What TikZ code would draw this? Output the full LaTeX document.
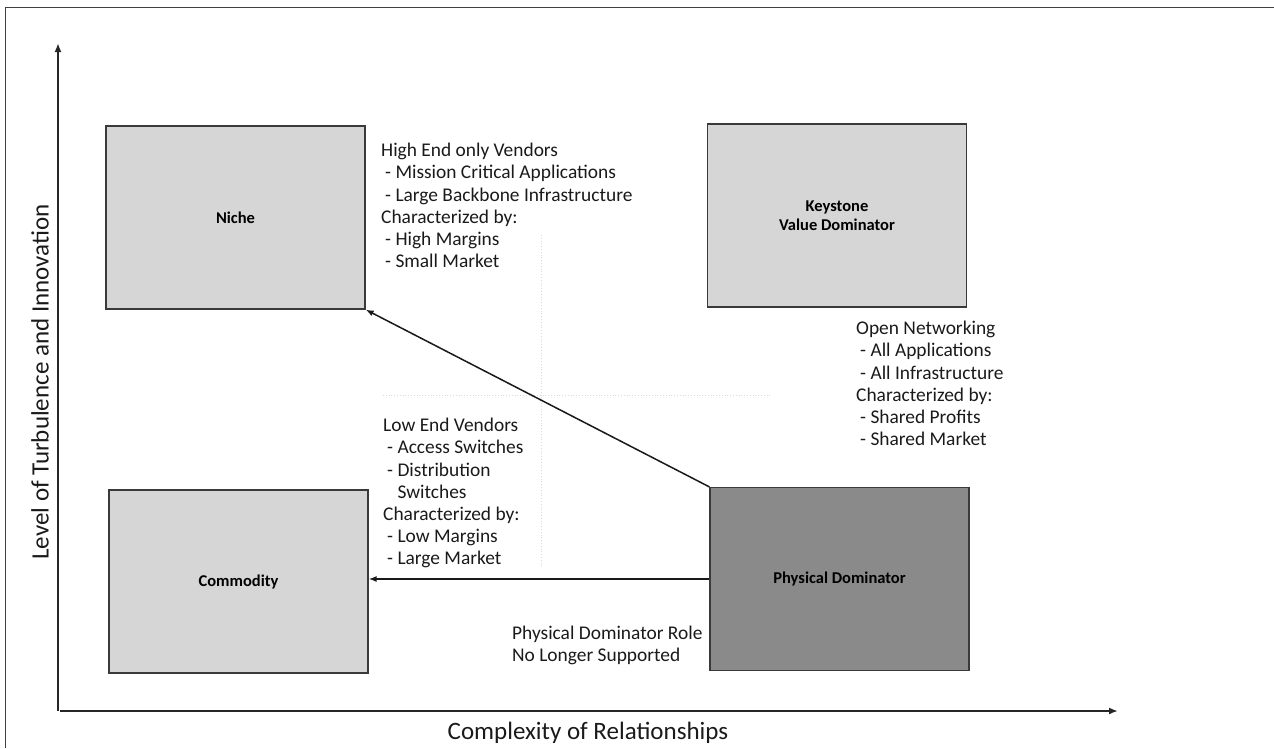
\documentclass[tikz,border=0pt]{standalone}
\usepackage{fontspec}
\setmainfont{Carlito}
\usetikzlibrary{arrows.meta}
\definecolor{boxlight}{HTML}{D6D6D6}
\definecolor{boxdark}{HTML}{8A8A8A}
\definecolor{edgegray}{HTML}{3A3A3A}
\definecolor{txt}{HTML}{1A1A1A}
\newcommand{\ind}{\hspace*{4pt}}
\tikzset{
  quad/.style={draw=edgegray, line width=1.2pt, fill=boxlight, minimum width=259pt, minimum height=183pt, inner sep=0pt, font=\fontsize{16.5}{19}\selectfont\bfseries, align=center},
  sidetext/.style={anchor=north west, inner sep=0pt, align=left, text=txt, font=\fontsize{19.4}{22.2}\selectfont},
  axislabel/.style={inner sep=0pt, text=txt, font=\fontsize{25}{28}\selectfont},
  axisline/.style={line width=2pt, draw=black!85, -{Latex[length=9pt,width=7pt]}},
  flow/.style={line width=1.5pt, draw=black!90, -{Latex[length=8pt,width=6pt]}},
  faint/.style={draw=gray!30, line width=0.8pt, dotted}
}
\begin{document}
\begin{tikzpicture}[x=1pt,y=-1pt]
\useasboundingbox (0,0) rectangle (1274,748);
% frame
\draw[draw=black!75, line width=1pt] (5,748) -- (5,7) -- (1274,7);
% faint divider lines
\draw[faint] (541,235) -- (541,568);
\draw[faint] (383,395) -- (770,395);
% axes
\coordinate (origin) at (58,711);
\coordinate (ytop) at (58,43);
\coordinate (xend) at (1118,711);
\draw[axisline] (origin) -- (ytop);
\draw[axisline] (60,711) -- (xend);
\node[axislabel, rotate=90] (ylabel) at (40,382) {Level of Turbulence and Innovation};
\node[axislabel] (xlabel) at (588,733) {Complexity of Relationships};
% quadrants
\node[quad] (niche) at (235.5,217.5) {Niche};
\node[quad] (keystone) at (837,215.5) {Keystone\\Value Dominator};
\node[quad] (commodity) at (238.5,581.5) {Commodity};
\node[quad, fill=boxdark] (physical) at (839.5,579) {Physical Dominator};
% connectors
\draw[flow] (physical.north west) -- (niche.south east);
\draw[flow] (physical.west) -- (physical.west -| commodity.east);
% side texts
\node[sidetext] (hightext) at (381,143) {High End only Vendors\\\ind- Mission Critical Applications\\\ind- Large Backbone Infrastructure\\Characterized by:\\\ind- High Margins\\\ind- Small Market};
\node[sidetext] (opentext) at (856,321) {Open Networking\\\ind- All Applications\\\ind- All Infrastructure\\Characterized by:\\\ind- Shared Profits\\\ind- Shared Market};
\node[sidetext] (lowtext) at (383,418) {Low End Vendors\\\ind- Access Switches\\\ind- Distribution\\\ind\phantom{- }Switches\\Characterized by:\\\ind- Low Margins\\\ind- Large Market};
\node[sidetext] (roletext) at (512,626) {Physical Dominator Role\\No Longer Supported};
\end{tikzpicture}
\end{document}
